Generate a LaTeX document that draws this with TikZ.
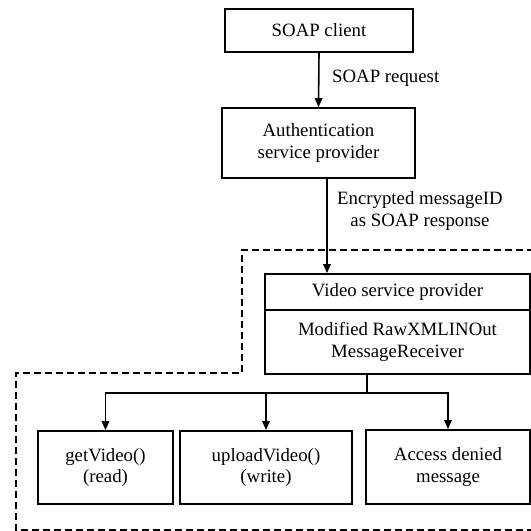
\documentclass[tikz,border=0pt]{standalone}
\usepackage{fontspec}
\setmainfont{Liberation Serif}
\usetikzlibrary{arrows.meta,calc}

\tikzset{
  box/.style={draw, line width=1.7pt, fill=white, inner sep=0pt, align=center,
    font=\fontsize{18.8}{21.5}\selectfont},
  arr/.style={line width=1.6pt, -{Triangle[length=9pt,width=7.5pt]}},
  link/.style={line width=1.6pt},
  lbl/.style={inner sep=0pt, align=center, font=\fontsize{18.8}{21.5}\selectfont},
  zone/.style={line width=1.5pt, dash pattern=on 7pt off 4pt}
}

\begin{document}
\begin{tikzpicture}[x=1pt,y=-1pt]
  \useasboundingbox (0,0) rectangle (531,531);
  \clip (0,0) rectangle (531,531);

  % trusted zone around the video service
  \draw[zone] (545,250) -- (242,250) -- (242,373) -- (16,373) -- (16,530) -- (545,530);

  % boxes
  \node[box, minimum width=188pt, minimum height=43pt] (client) at (319,30.5) {SOAP client};
  \node[box, minimum width=193pt, minimum height=70pt] (auth) at (318.5,143) {Authentication\\service provider};
  \node[box, minimum width=265pt, minimum height=36pt] (vtop) at (397.5,292) {Video service provider};
  \node[box, minimum width=265pt, minimum height=64pt] (vbot) at (397.5,342) {Modified RawXMLINOut\\MessageReceiver};
  \node[box, minimum width=135pt, minimum height=73pt] (get) at (105.5,467.5) {getVideo()\\(read)};
  \node[box, minimum width=172pt, minimum height=73pt] (up) at (266,467.5) {uploadVideo()\\(write)};
  \node[box, minimum width=164pt, minimum height=74pt] (deny) at (448,467) {Access denied\\message};

  % connectors
  \draw[arr] (client.south) -- (auth.north);
  \node[lbl, anchor=west] (req) at (332,78) {SOAP request};

  \coordinate (down) at ([xshift=8.5pt]auth.south);
  \draw[arr] (down) -- (down |- vtop.north);
  \node[lbl, anchor=west] (resp) at (337,211) {Encrypted messageID\\as SOAP response};

  \coordinate (j) at (367,393);
  \draw[link] (vbot.south -| j) -- (j);
  \draw[arr] (j) -| (get.north);
  \draw[arr] (j) -| (deny.north);
  \draw[arr] (j -| up.north) -- (up.north);
\end{tikzpicture}
\end{document}
